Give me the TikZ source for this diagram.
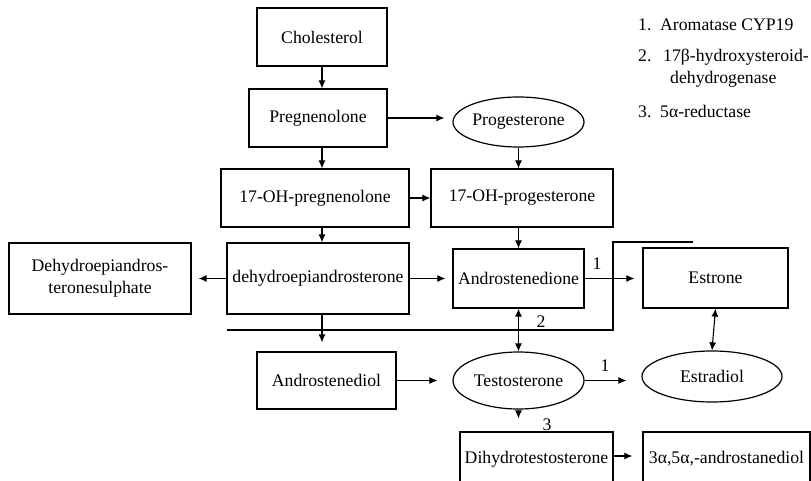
\documentclass[tikz,border=0pt]{standalone}
\usepackage{fontspec}
\setmainfont{Liberation Serif}
\usetikzlibrary{arrows.meta,shapes.geometric}
\begin{document}
\begin{tikzpicture}[x=1pt,y=-1pt,
  font=\fontsize{17.7}{22}\selectfont,
  box/.style={draw, line width=1.2pt, inner sep=0pt, align=center},
  oval/.style={draw, ellipse, line width=1.2pt, inner sep=0pt},
  arr/.style={line width=1.1pt, -{Latex[length=8pt,width=7pt]}},
  darr/.style={line width=1.1pt, {Latex[length=8pt,width=7pt]}-{Latex[length=8pt,width=7pt]}},
  lbl/.style={inner sep=0pt}]
\useasboundingbox (0,0) rectangle (811,481);

% nodes
\node[box, minimum width=130pt, minimum height=58pt] (chol) at (322,37) {Cholesterol};
\node[box, minimum width=138pt, minimum height=58pt] (preg) at (318,118) {Pregnenolone};
\node[oval, minimum width=131pt, minimum height=50pt] (prog) at (518.5,122) {Progesterone};
\node[box, minimum width=188pt, minimum height=58pt] (ohpreg) at (315,198) {17-OH-pregnenolone};
\node[box, minimum width=182pt, minimum height=58pt] (ohprog) at (522,198) {17-OH-progesterone};
\node[box, minimum width=182pt, minimum height=71pt] (dheas) at (100,278.5) {Dehydroepiandros-\\teronesulphate};
\node[box, minimum width=182pt, minimum height=71pt] (dhea) at (318,278.5) {dehydroepiandrosterone};
\node[box, minimum width=131pt, minimum height=59pt] (andro) at (518.5,278.5) {Androstenedione};
\node[box, minimum width=145pt, minimum height=60pt] (estrone) at (715.5,278) {Estrone};
\node[box, minimum width=139pt, minimum height=57pt] (adiol) at (326.5,380.5) {Androstenediol};
\node[oval, minimum width=131pt, minimum height=57pt] (testo) at (518.5,380.5) {Testosterone};
\node[oval, minimum width=140pt, minimum height=51pt] (estradiol) at (712,376.5) {Estradiol};
\begin{scope}
  \clip (0,0) rectangle (811,481);
  \node[box, minimum width=153pt, minimum height=54pt] (dht) at (536.5,459) {Dihydrotestosterone};
  \node[box, minimum width=167pt, minimum height=54pt] (adiol3) at (726.5,459) {3α,5α,-androstanediol};
\end{scope}

% legend
\node[lbl, anchor=base west] (l1n) at (638,31) {1.};
\node[lbl, anchor=base west] (l1t) at (660,31) {Aromatase CYP19};
\node[lbl, anchor=base west] (l2n) at (638,62) {2.};
\node[lbl, anchor=base west] (l2t) at (663,62) {17β-hydroxysteroid-};
\node[lbl, anchor=base west] (l2u) at (670,84) {dehydrogenase};
\node[lbl, anchor=base west] (l3n) at (638,118) {3.};
\node[lbl, anchor=base west] (l3t) at (660,118) {5α-reductase};

% connectors
\draw[arr] (chol.south) -- (chol.south |- preg.north);
\draw[arr] (preg.east) -- ([xshift=-8pt]prog.west |- preg.east);
\draw[arr] (preg.south -| chol.south) -- (ohpreg.north -| chol.south);
\draw[arr] (prog.south) -- (ohprog.north -| prog.south);
\draw[arr] (ohpreg.east) -- (ohprog.west);
\draw[arr] (ohpreg.south -| chol.south) -- (dhea.north -| chol.south);
\draw[arr] (ohprog.south -| andro.north) -- (andro.north);
\draw[arr] (dhea.west) -- ([xshift=7pt]dheas.east);
\draw[arr] (dhea.east) -- ([xshift=-7pt]andro.west);
\draw[arr] (andro.east) -- ([xshift=-8pt]estrone.west |- andro.east);
\draw[arr] (dhea.south -| chol.south) -- ([yshift=9pt]adiol.north -| chol.south);
\draw[darr] (andro.south) -- (testo.north);
\draw[darr] (estrone.south) -- (estradiol.north);
\draw[arr] (adiol.east) -- ([xshift=-15pt]testo.west);
\draw[arr] (testo.east) -- ([xshift=-15pt]estradiol.west |- testo.east);
\draw[arr] (testo.south) -- ([yshift=13pt]dht.north -| testo.south);
\draw[arr] ([yshift=3pt]dht.east) -- ([xshift=-10pt,yshift=3pt]adiol3.west);

% bracket line
\coordinate (b1) at (227,330);
\coordinate (b2) at (613,330);
\coordinate (b3) at (613,242);
\coordinate (b4) at (693,242);
\draw[line width=1.2pt] (b1) -- (b2) -- (b3) -- (b4);

% enzyme labels
\node[lbl] (e1a) at (597,264) {1};
\node[lbl] (e2) at (541,322) {2};
\node[lbl] (e1b) at (605,366) {1};
\node[lbl] (e3) at (547,425) {3};
\end{tikzpicture}
\end{document}
